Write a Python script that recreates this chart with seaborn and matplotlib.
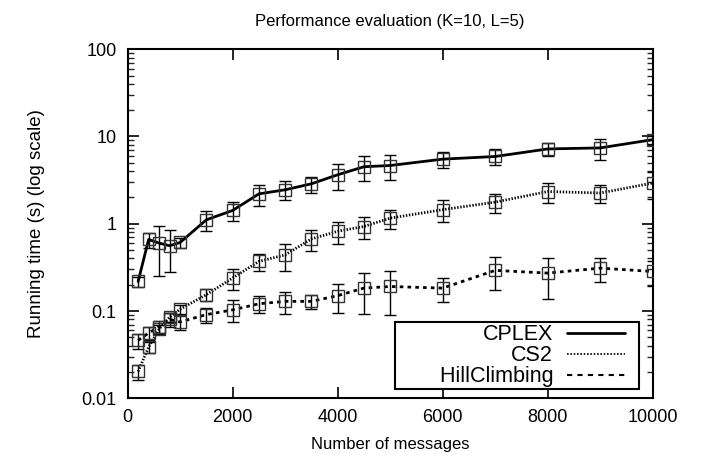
import numpy as np
import pandas as pd
import matplotlib
matplotlib.use("Agg")
import matplotlib.pyplot as plt
from matplotlib.lines import Line2D
from matplotlib.legend_handler import HandlerLine2D
from matplotlib.ticker import FixedLocator, LogLocator, FuncFormatter, NullFormatter
import seaborn as sns

# Datos
mensajes = [200, 400, 600, 800, 1000, 1500, 2000, 2500, 3000, 3500,
            4000, 4500, 5000, 6000, 7000, 8000, 9000, 10000]

cplex = [0.218, 0.66, 0.60, 0.56, 0.61, 1.11, 1.42, 2.2, 2.45, 2.87,
         3.64, 4.5, 4.65, 5.5, 5.9, 7.2, 7.4, 9.2]
cplex_err = [0.03, 0.13, 0.35, 0.28, 0.08, 0.28, 0.35, 0.6, 0.6, 0.6,
             1.2, 1.4, 1.5, 1.2, 1.2, 1.3, 2.0, 1.0]

cs2 = [0.0203, 0.0387, 0.062, 0.085, 0.105, 0.154, 0.239, 0.37, 0.44, 0.67,
       0.82, 0.93, 1.16, 1.45, 1.77, 2.34, 2.25, 2.93]
cs2_err = [0.004, 0.006, 0.008, 0.01, 0.013, 0.023, 0.065, 0.08, 0.15, 0.18,
           0.24, 0.27, 0.28, 0.4, 0.45, 0.6, 0.5, 1.0]

hill = [0.046, 0.056, 0.066, 0.080, 0.075, 0.091, 0.103, 0.121, 0.129, 0.129,
        0.150, 0.183, 0.191, 0.183, 0.292, 0.272, 0.310, 0.284]
hill_err = [0.009, 0.01, 0.01, 0.015, 0.015, 0.018, 0.029, 0.026, 0.037, 0.024,
            0.055, 0.09, 0.10, 0.056, 0.12, 0.135, 0.095, 0.09]

metodos = ["CPLEX", "CS2", "HillClimbing"]
xticks = [0, 2000, 4000, 6000, 8000, 10000]
yticks = [0.01, 0.1, 1, 10, 100]

# Tabla larga para seaborn
df = pd.DataFrame({
    "mensajes": mensajes * 3,
    "tiempo": cplex + cs2 + hill,
    "error": cplex_err + cs2_err + hill_err,
    "metodo": ["CPLEX"] * len(mensajes) + ["CS2"] * len(mensajes) + ["HillClimbing"] * len(mensajes),
})

sns.set_theme(style="ticks")
plt.rcParams["font.family"] = ["Liberation Sans", "DejaVu Sans"]
plt.rcParams["text.color"] = "black"
plt.rcParams["axes.labelcolor"] = "black"

fig = plt.figure(figsize=(7.09, 4.68), dpi=100)
ax = fig.add_axes([0.180, 0.149, 0.7406, 0.7458])

estilos = {"CPLEX": "", "CS2": (0.5, 0.6), "HillClimbing": (1.3, 1.5)}
sns.lineplot(data=df, x="mensajes", y="tiempo", hue="metodo", style="metodo",
             palette=["black"] * 3, dashes=estilos, linewidth=2.0,
             legend=False, ax=ax, errorbar=None)

# Barras de error y marcadores cuadrados
for m in metodos:
    sub = df[df["metodo"] == m]
    ax.errorbar(sub["mensajes"], sub["tiempo"], yerr=sub["error"], fmt="s",
                mfc="none", mec="#333333", mew=1.0, ms=8.5, ecolor="black",
                elinewidth=1.0, capsize=4.3, capthick=1.0, linestyle="none", zorder=3)

ax.set_yscale("log")
ax.set_xlim(0, 10000)
ax.set_ylim(0.01, 100)
ax.xaxis.set_major_locator(FixedLocator(xticks))
ax.yaxis.set_major_locator(FixedLocator(yticks))
ax.yaxis.set_minor_locator(LogLocator(base=10, subs=np.arange(2, 10)))
ax.yaxis.set_minor_formatter(NullFormatter())
ax.yaxis.set_major_formatter(FuncFormatter(lambda v, p: "%g" % v))

ax.tick_params(which="major", direction="in", length=8, width=1.2, top=True, right=True,
               labelsize=13, colors="black", pad=8)
ax.tick_params(which="minor", direction="in", length=4, width=1.0, top=False, right=True)
ax.tick_params(axis="x", which="minor", bottom=False, top=False)
for s in ax.spines.values():
    s.set_linewidth(1.5)
    s.set_color("black")

ax.set_xlabel("Number of messages", fontsize=12, labelpad=8)
ax.set_ylabel("Running time (s) (log scale)", fontsize=13.5, labelpad=26)
ax.set_title("Performance evaluation (K=10, L=5)", fontsize=12, pad=17)

# Leyenda con el texto a la izquierda y la línea a la derecha
handles = [Line2D([], [], color="black", lw=2.0),
           Line2D([], [], color="black", lw=1.2, dashes=(1, 1)),
           Line2D([], [], color="black", lw=1.5, dashes=(2.5, 2.5))]
etiquetas = ["CPLEX", "CS2", "       HillClimbing"]
leg = ax.legend(handles, etiquetas, loc="lower right", bbox_to_anchor=(0.9745, 0.026),
                borderaxespad=0, markerfirst=False, fancybox=False, framealpha=1,
                edgecolor="black", fontsize=15.5, handlelength=3.8, labelspacing=0.0,
                borderpad=0.1, handletextpad=0.1,
                handler_map={Line2D: HandlerLine2D(numpoints=2, marker_pad=0.56)})
leg.get_frame().set_linewidth(1.5)

fig.savefig("out.png", dpi=100)
